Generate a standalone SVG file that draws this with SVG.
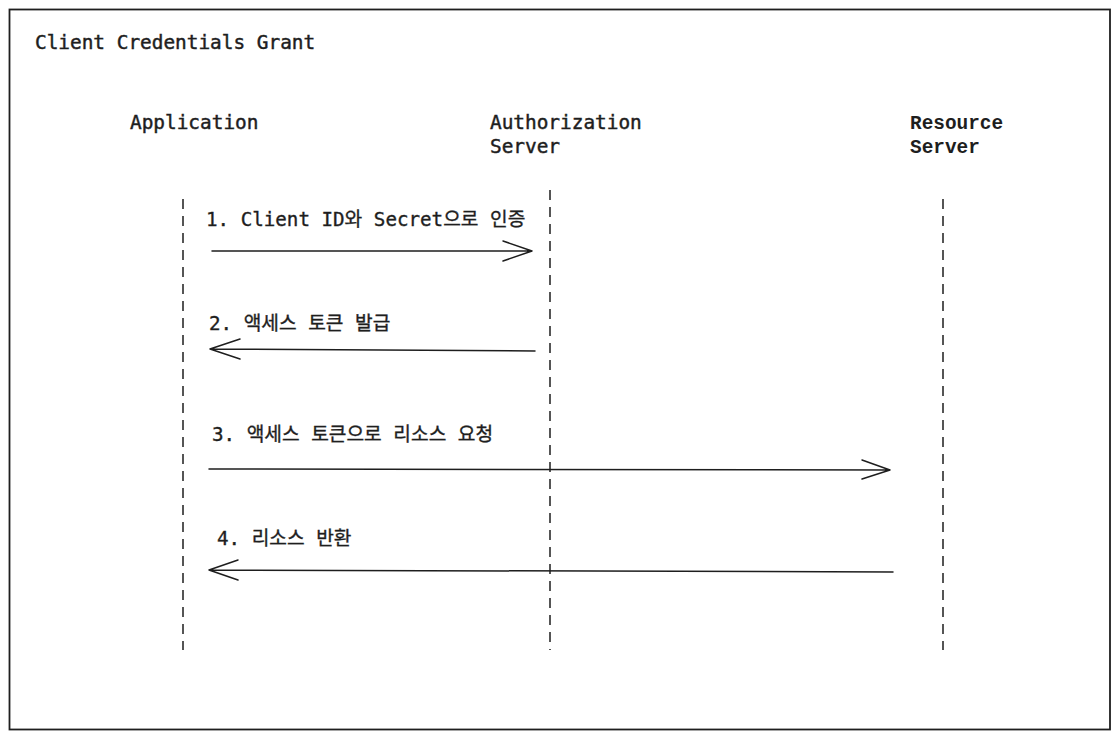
<svg xmlns="http://www.w3.org/2000/svg" width="1120" height="740" viewBox="0 0 1120 740">
  <defs>
    <style>
      .hdr { font-family: "DejaVu Sans Mono", "Liberation Mono", monospace; font-size: 19.4px; fill: #1e1e1e; stroke: #1e1e1e; stroke-width: 0.45; }
      .hdr2 { font-family: "Liberation Mono", "DejaVu Sans Mono", monospace; font-size: 19.4px; font-weight: bold; fill: #1e1e1e; }
      .lbl { font-family: "DejaVu Sans Mono", "Noto Sans CJK KR", monospace; font-size: 19.2px; fill: #1e1e1e; stroke: #1e1e1e; stroke-width: 0.35; }
      .life { stroke: #1e1e1e; stroke-width: 1.5; stroke-dasharray: 10 7; fill: none; }
      .msg { stroke: #1e1e1e; stroke-width: 1.5; fill: none; stroke-linecap: round; stroke-linejoin: round; }
    </style>
  </defs>
  <rect x="0" y="0" width="1120" height="740" fill="#ffffff"/>
  <rect id="frame" x="9.5" y="9.5" width="1100.5" height="720" fill="none" stroke="#1e1e1e" stroke-width="1.8"/>
  <text id="title" class="hdr" x="35" y="49">Client Credentials Grant</text>

  <g id="application">
    <text class="hdr" x="130" y="129">Application</text>
    <line class="life" x1="183" y1="199" x2="183" y2="650"/>
  </g>
  <g id="authorization-server">
    <text class="hdr" x="490" y="129">Authorization</text>
    <text class="hdr" x="490" y="153">Server</text>
    <line class="life" x1="550" y1="190" x2="550" y2="650"/>
  </g>
  <g id="resource-server">
    <text class="hdr2" x="910" y="129">Resource</text>
    <text class="hdr2" x="910" y="153">Server</text>
    <line class="life" x1="943" y1="199" x2="943" y2="650"/>
  </g>

  <g id="connectors">
    <g id="msg1">
      <path class="msg" d="M212 251 L532 251 M503 241 L532 251 L503 261"/>
      <text class="lbl" x="206" y="226">1. Client ID와 Secret으로 인증</text>
    </g>
    <g id="msg2">
      <path class="msg" d="M535 351 L210 349 M240 339 L210 349 L240 359"/>
      <text class="lbl" x="209" y="330">2. 액세스 토큰 발급</text>
    </g>
    <g id="msg3">
      <path class="msg" d="M209 469 L890 470 M862 460 L890 470 L862 479"/>
      <text class="lbl" x="212" y="441">3. 액세스 토큰으로 리소스 요청</text>
    </g>
    <g id="msg4">
      <path class="msg" d="M893 572 L209 570 M238 560 L209 570 L238 580"/>
      <text class="lbl" x="217" y="545">4. 리소스 반환</text>
    </g>
  </g>
</svg>
